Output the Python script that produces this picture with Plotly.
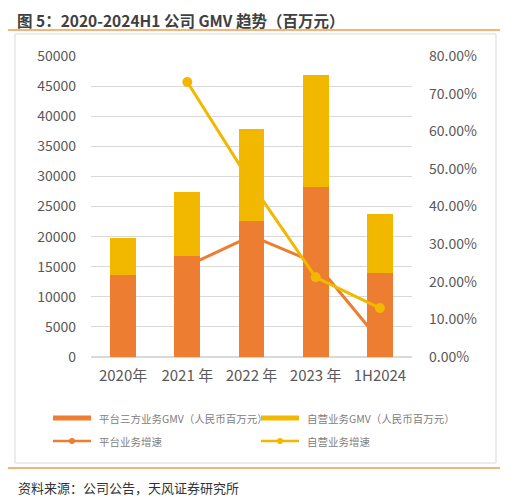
import plotly.graph_objects as go

# Data
years = ['2020年', '2021 年', '2022 年', '2023 年', '1H2024']
platform_gmv = [13600, 16700, 22600, 28300, 14000]
self_gmv = [6100, 10700, 15300, 18600, 9700]
platform_growth = [None, 0.242, 0.322, 0.250, 0.043]
self_growth = [None, 0.731, 0.460, 0.212, 0.130]

ORANGE = '#ED7D31'
YELLOW = '#F2B800'
FONT = 'Noto Sans CJK SC'

# the page body adds an 8px margin, so the figure is drawn 8px in from the top-left
PAGE_MARGIN = 8

fig = go.Figure()

fig.add_trace(go.Bar(x=years, y=platform_gmv, name='平台三方业务GMV（人民币百万元）',
                     marker_color=ORANGE, marker_line_width=0))
fig.add_trace(go.Bar(x=years, y=self_gmv, name='自营业务GMV（人民币百万元）',
                     marker_color=YELLOW, marker_line_width=0))
fig.add_trace(go.Scatter(x=years, y=platform_growth, name='平台业务增速', yaxis='y2',
                         mode='lines+markers', line=dict(color=ORANGE, width=3),
                         marker=dict(size=9, color=ORANGE)))
fig.add_trace(go.Scatter(x=years, y=self_growth, name='自营业务增速', yaxis='y2',
                         mode='lines+markers', line=dict(color=YELLOW, width=3),
                         marker=dict(size=10, color=YELLOW)))

fig.update_layout(
    width=508 - PAGE_MARGIN, height=498 - PAGE_MARGIN,
    barmode='stack', bargap=0.6,
    showlegend=False,
    paper_bgcolor='white', plot_bgcolor='white',
    margin=dict(l=91 - PAGE_MARGIN, r=96, t=56 - PAGE_MARGIN, b=141),
    font=dict(family=FONT, color='#595959'),
    xaxis=dict(showgrid=False, showline=False, ticks='', tickfont=dict(size=15),
               ticklabelstandoff=8),
    yaxis=dict(range=[0, 50000], dtick=5000, showgrid=True, gridcolor='#D9D9D9',
               gridwidth=1, zeroline=True, zerolinecolor='#D9D9D9', showline=False,
               tickfont=dict(size=14), ticklabelstandoff=14, tickformat='d'),
    yaxis2=dict(range=[0, 0.8], dtick=0.1, overlaying='y', side='right',
                showgrid=False, zeroline=False, showline=False,
                tickformat='.2%', tickfont=dict(size=14), ticklabelstandoff=16),
)


# helpers: window pixels -> paper coords (plot area spans x 91..412, y 56..357)
def px_x(px):
    return (px - 91) / 321


def px_y(py):
    return (357 - py) / 301


shapes = [
    # orange rules at top and bottom
    dict(type='line', xref='paper', yref='paper', x0=px_x(5), x1=px_x(502),
         y0=px_y(30), y1=px_y(30), line=dict(color='#F39A4C', width=1.5)),
    dict(type='line', xref='paper', yref='paper', x0=px_x(5), x1=px_x(502),
         y0=px_y(468), y1=px_y(468), line=dict(color='#F39A4C', width=1.5)),
    # chart frame
    dict(type='rect', xref='paper', yref='paper', x0=px_x(15), x1=px_x(496),
         y0=px_y(463), y1=px_y(34), line=dict(color='#D9D9D9', width=1)),
]

legend_items = [
    (53, 418, 'bar', ORANGE, '平台三方业务GMV（人民币百万元）'),
    (261, 418, 'bar', YELLOW, '自营业务GMV（人民币百万元）'),
    (53, 441, 'line', ORANGE, '平台业务增速'),
    (261, 441, 'line', YELLOW, '自营业务增速'),
]
annotations = []
for x0, yc, kind, col, label in legend_items:
    if kind == 'bar':
        shapes.append(dict(type='rect', xref='paper', yref='paper',
                           x0=px_x(x0), x1=px_x(x0 + 38), y0=px_y(yc + 2.5), y1=px_y(yc - 2.5),
                           fillcolor=col, line_width=0))
    else:
        shapes.append(dict(type='line', xref='paper', yref='paper',
                           x0=px_x(x0), x1=px_x(x0 + 38), y0=px_y(yc), y1=px_y(yc),
                           line=dict(color=col, width=2.5)))
        shapes.append(dict(type='circle', xref='paper', yref='paper',
                           x0=px_x(x0 + 16), x1=px_x(x0 + 22), y0=px_y(yc + 3), y1=px_y(yc - 3),
                           fillcolor=col, line_width=0))
    annotations.append(dict(xref='paper', yref='paper', x=px_x(x0 + 44), y=px_y(yc),
                            xanchor='left', yanchor='middle', showarrow=False, text=label,
                            font=dict(size=10.5, color='#808080', family=FONT)))

# title sits just under the top edge of the figure so it is not clipped
annotations.append(dict(xref='paper', yref='paper', x=px_x(16), y=px_y(8.5),
                        xanchor='left', yanchor='top', showarrow=False, borderpad=0,
                        text='<b>图 5：2020-2024H1 公司 GMV 趋势（百万元）</b>',
                        font=dict(size=15.5, color='#404040', family=FONT)))
annotations.append(dict(xref='paper', yref='paper', x=px_x(16), y=px_y(487),
                        xanchor='left', yanchor='middle', showarrow=False,
                        text='资料来源：公司公告，天风证券研究所',
                        font=dict(size=13, color='#333333', family=FONT)))

fig.update_layout(shapes=shapes, annotations=annotations)

fig.write_html('out.html')
